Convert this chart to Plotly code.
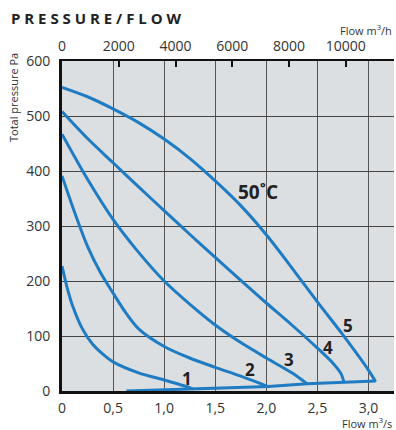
import plotly.graph_objects as go

# Fan curves, flow in m3/s, total pressure in Pa
flow_1 = [0, 0.05, 0.1, 0.2, 0.3, 0.4, 0.5, 0.75, 1.0, 1.2, 1.28]
pres_1 = [227, 188, 157, 113, 85, 67, 53, 33, 20, 9, 4]

flow_2 = [0, 0.125, 0.25, 0.375, 0.5, 0.625, 0.75, 1.0, 1.25, 1.5, 1.75, 2.02]
pres_2 = [391, 324, 263, 216, 178, 142, 113, 81, 60, 43, 27, 8]

flow_3 = [0, 0.25, 0.5, 0.75, 1.0, 1.25, 1.5, 1.75, 2.0, 2.25, 2.4]
pres_3 = [467, 385, 312, 252, 200, 158, 120, 88, 60, 33, 13]

flow_4 = [0, 0.25, 0.5, 0.75, 1.0, 1.25, 1.5, 1.75, 2.0, 2.25, 2.5, 2.65, 2.73, 2.76]
pres_4 = [508, 459, 415, 371, 328, 285, 243, 201, 160, 120, 78, 51, 32, 16]

flow_5 = [0, 0.25, 0.5, 0.75, 1.0, 1.25, 1.5, 1.75, 2.0, 2.25, 2.5, 2.75, 3.0, 3.07]
pres_5 = [552, 535, 513, 488, 458, 423, 382, 337, 284, 224, 162, 102, 38, 17]

# Line joining the end points of the curves
flow_end = [0.63, 1.28, 2.02, 2.4, 2.76, 3.07]
pres_end = [0, 4, 8, 13, 16, 18]

curve_names = ["1", "2", "3", "4", "5"]
label_flow = [1.225, 1.84, 2.22, 2.6, 2.8]
label_pres = [23, 40, 57, 80, 120]

x_tickvals = [0, 0.5, 1.0, 1.5, 2.0, 2.5, 3.0]
x_ticktext = ["0", "0,5", "1,0", "1,5", "2,0", "2,5", "3,0"]
top_tickvals = [0, 2000, 4000, 6000, 8000, 10000]
y_tickvals = [0, 100, 200, 300, 400, 500, 600]

X_MAX = 3.25
BLUE = "#1f7cc2"
FONT = "Open Sans"

fig = go.Figure()
for fx, fy in [(flow_1, pres_1), (flow_2, pres_2), (flow_3, pres_3),
               (flow_4, pres_4), (flow_5, pres_5)]:
    fig.add_trace(go.Scatter(
        x=fx, y=fy, mode="lines",
        line=dict(color=BLUE, width=3, shape="spline", smoothing=0.8),
        showlegend=False, hoverinfo="skip"))
fig.add_trace(go.Scatter(
    x=flow_end, y=pres_end, mode="lines",
    line=dict(color=BLUE, width=3),
    showlegend=False, hoverinfo="skip"))

# invisible trace to activate the m3/h axis
fig.add_trace(go.Scatter(x=[0, X_MAX * 3600], y=[0, 0], xaxis="x2",
                         mode="lines", line=dict(width=0),
                         showlegend=False, hoverinfo="skip"))

annotations = []
for name, ax_, ay_ in zip(curve_names, label_flow, label_pres):
    annotations.append(dict(x=ax_, y=ay_, text=f"<b>{name}</b>", showarrow=False,
                            font=dict(family=FONT, size=17, color="#222")))
annotations.append(dict(x=1.92, y=361, text="<b>50˚C</b>", showarrow=False,
                        font=dict(family=FONT, size=19, color="#222")))
annotations.append(dict(xref="paper", yref="paper", x=-53 / 332, y=1 + 43 / 330,
                        xanchor="left", yanchor="middle", showarrow=False,
                        text="<b>P R E S S U R E / F L O W</b>",
                        font=dict(family=FONT, size=15, color="#222")))
annotations.append(dict(xref="paper", yref="paper", x=1, y=1 + 31 / 330,
                        xanchor="right", yanchor="middle", showarrow=False,
                        text="Flow m<sup>3</sup>/h",
                        font=dict(family=FONT, size=11, color="#333")))
annotations.append(dict(xref="paper", yref="paper", x=1, y=-32 / 330,
                        xanchor="right", yanchor="middle", showarrow=False,
                        text="Flow m<sup>3</sup>/s",
                        font=dict(family=FONT, size=11, color="#333")))
annotations.append(dict(xref="paper", yref="paper", x=-48 / 332, y=1 - 37 / 330,
                        xanchor="center", yanchor="middle", showarrow=False,
                        textangle=-90, text="Total pressure Pa",
                        font=dict(family=FONT, size=11, color="#333")))

fig.update_layout(
    width=396, height=430,
    margin=dict(l=62, r=2, t=61, b=39),
    paper_bgcolor="white",
    plot_bgcolor="#dcdfe2",
    font=dict(family=FONT, size=14, color="#333"),
    annotations=annotations,
    xaxis=dict(range=[0, X_MAX], tickvals=x_tickvals, ticktext=x_ticktext,
               showgrid=True, gridcolor="#555", gridwidth=1,
               showline=True, linecolor="#111", linewidth=3,
               ticks="", zeroline=False, ticklabelstandoff=2),
    xaxis2=dict(range=[0, X_MAX * 3600], overlaying="x", side="top",
                tickvals=top_tickvals, ticktext=[str(v) for v in top_tickvals],
                showgrid=False, showline=True, linecolor="#111", linewidth=2,
                ticks="inside", ticklen=6, tickcolor="#111", tickwidth=2,
                zeroline=False, ticklabelstandoff=2),
    yaxis=dict(range=[0, 600], tickvals=y_tickvals,
               showgrid=True, gridcolor="#444", gridwidth=1,
               showline=True, linecolor="#111", linewidth=3,
               ticks="", zeroline=False, ticklabelstandoff=6),
)

fig.write_html("out.html")
